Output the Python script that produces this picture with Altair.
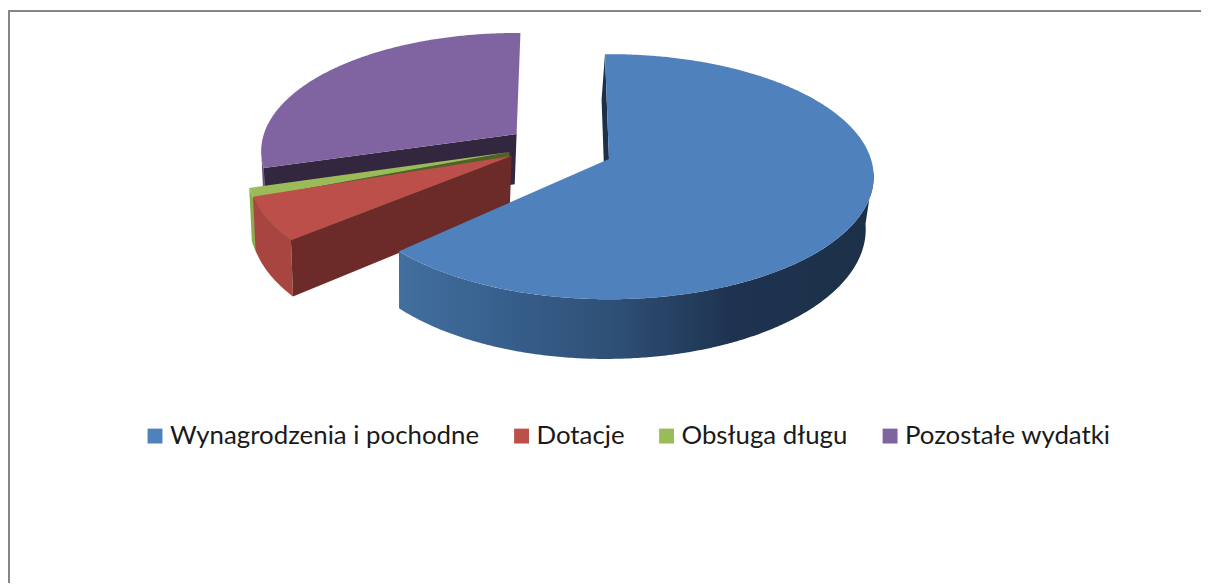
import numpy as np
import pandas as pd
import altair as alt

categories = ["Wynagrodzenia i pochodne", "Dotacje", "Obsługa długu", "Pozostałe wydatki"]
shares = [63.1, 5.8, 1.3, 29.8]

top_colors = ["#4f81bd", "#bd4f4b", "#9bbb59", "#8064a2"]
cut_colors = ["#1c3048", "#6c2b29", "#4f6228", "#33273f"]
outer_colors = ["#426f9f", "#a84540", "#8bab4f", "#665082"]

# exploded slice apexes on screen and per-slice perspective scale / skew
APEX = [(605, 158), (507, 155), (505, 151), (512, 133)]
SCALE = [0.995, 0.99, 0.99, 0.96]
ROT = [0, 4, 1.5, 2]
START_DEG = -1.0
R, A, K = 265.0, 121.4, 0.145
VX, VF, D, DF = 400.0, 0.017, 52.0, 0.0011

W, H = 1201, 577
xs = alt.Scale(domain=[0, 1201], nice=False, zero=False)
ys = alt.Scale(domain=[585, 8], nice=False, zero=False)


def top_pt(apex, deg, sc):
    a = np.radians(deg)
    s = sc / (1 + K * np.cos(a))
    return apex[0] + R * np.sin(a) * s, apex[1] - A * np.cos(a) * s


def low_pt(p):
    x, y = p
    return x - (x - VX) * VF, y + D * (1 + DF * (y - 158))


def poly(points, fill):
    df = pd.DataFrame(points, columns=["x", "y"])
    df["i"] = range(len(df))
    return alt.Chart(df).mark_line(fill=fill, stroke=None, strokeWidth=0, interpolate="linear-closed").encode(
        x=alt.X("x:Q", scale=xs, axis=None),
        y=alt.Y("y:Q", scale=ys, axis=None),
        order="i:Q",
    )


def arc(apex, a0, a1, sc):
    n = max(2, int(abs(a1 - a0)) * 2)
    return [top_pt(apex, d, sc) for d in np.linspace(a0, a1, n)]


edges = np.concatenate([[0], np.cumsum(shares)]) / 100 * 360 + START_DEG
blue_grad = alt.Gradient(
    gradient="linear", x1=0, x2=1, y1=0, y2=0,
    stops=[
        alt.GradientStop(color="#426f9f", offset=0),
        alt.GradientStop(color="#38618e", offset=0.2),
        alt.GradientStop(color="#2e4f75", offset=0.46),
        alt.GradientStop(color="#1e3350", offset=0.7),
        alt.GradientStop(color="#1c3048", offset=1),
    ],
)

layers = []
# painter's order: purple, green, red, blue
for idx in [3, 2, 1, 0]:
    apex, sc = APEX[idx], SCALE[idx]
    a0, a1 = edges[idx] + ROT[idx], edges[idx + 1] + ROT[idx]
    w0, w1 = a0, a1
    if idx == 0:
        w0 = 96
    if idx == 3:
        w1 = 262
    ring = arc(apex, w0, w1, sc)
    layers.append(poly(ring + [low_pt(p) for p in reversed(ring)],
                       blue_grad if idx == 0 else outer_colors[idx]))
    c = top_pt(apex, a0, sc)
    layers.append(poly([apex, c, low_pt(c), low_pt(apex)], cut_colors[idx]))
    layers.append(poly([apex] + arc(apex, a0, a1, sc), top_colors[idx]))

legend_df = pd.DataFrame({"cat": categories})
legend_layer = alt.Chart(legend_df).mark_square(size=0).encode(
    color=alt.Color(
        "cat:N",
        sort=categories,
        scale=alt.Scale(domain=categories, range=top_colors),
        legend=alt.Legend(
            orient="none", legendX=135, legendY=416, direction="horizontal", columns=4,
            title=None, symbolType="square", symbolSize=225, symbolStrokeWidth=0, symbolOpacity=1,
            labelFont="Lato", labelFontSize=26, labelColor="#1a1a1a", labelLimit=500,
            columnPadding=29, labelOffset=2,
        ),
    )
)

border = pd.DataFrame({"x": [1]})
left = alt.Chart(border).mark_rule(color="#868686", strokeWidth=2).encode(
    x=alt.value(1), y=alt.value(0), y2=alt.value(H))
topb = alt.Chart(border).mark_rule(color="#868686", strokeWidth=2).encode(
    y=alt.value(1), x=alt.value(0), x2=alt.value(W))

chart = alt.layer(*layers, legend_layer, left, topb).properties(
    width=W, height=H, padding=0, background="white", autosize=alt.AutoSizeParams(type="none")
).configure_view(stroke=None)

chart.save("out.html", embed_options={"renderer": "svg", "actions": False})
